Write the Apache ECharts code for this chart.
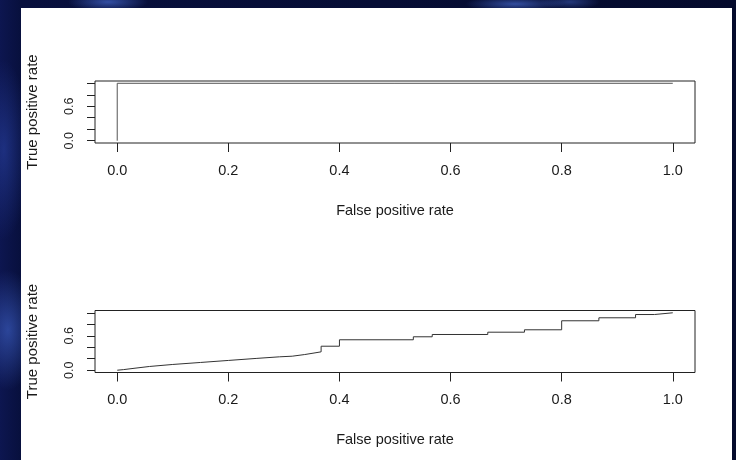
<!DOCTYPE html>
<html>
<head>
<meta charset="utf-8">
<script src="https://cdn.jsdelivr.net/npm/echarts@6/dist/echarts.min.js"></script>
<style>
html,body{margin:0;padding:0;width:736px;height:460px;overflow:hidden;}
body{
  background:
    radial-gradient(ellipse 30px 60px at 8px 330px, rgba(70,110,220,0.55), rgba(70,110,220,0) 100%),
    radial-gradient(ellipse 25px 90px at 4px 150px, rgba(50,80,190,0.45), rgba(50,80,190,0) 100%),
    radial-gradient(ellipse 40px 10px at 108px 2px, rgba(80,120,230,0.6), rgba(80,120,230,0) 100%),
    radial-gradient(ellipse 50px 8px at 515px 4px, rgba(80,120,230,0.6), rgba(80,120,230,0) 100%),
    radial-gradient(ellipse 30px 8px at 570px 2px, rgba(80,120,230,0.4), rgba(80,120,230,0) 100%),
    linear-gradient(90deg, #0d1650 0px, #08103e 20px, #040a2c 100%);
}
#panel{position:absolute;left:21px;top:8px;width:711px;height:452px;background:#fff;}
#chart{position:absolute;left:0;top:0;width:736px;height:460px;}
</style>
</head>
<body>
<div id="panel"></div>
<div id="chart"></div>
<script>
// Tick values and labels
const xTicks = [0, 0.2, 0.4, 0.6, 0.8, 1.0];
const yTicks = [0, 0.2, 0.4, 0.6, 0.8, 1.0];
const yLabels = [0, 0.6];

// ROC curve 1 (perfect classifier)
const fpr1 = [0, 0, 1];
const tpr1 = [0, 1, 1];

// ROC curve 2
const fpr2 = [0, 0.011, 0.011, 0.032, 0.032, 0.058, 0.058, 0.1, 0.15, 0.2, 0.25, 0.292, 0.315, 0.315, 0.3375, 0.3375, 0.356, 0.356, 0.367, 0.367, 0.4, 0.4, 0.533, 0.533, 0.567, 0.567, 0.667, 0.667, 0.733, 0.733, 0.8, 0.8, 0.867, 0.867, 0.933, 0.933, 0.967, 0.967, 1.0];
const tpr2 = [0, 0.01, 0.017, 0.035, 0.042, 0.065, 0.07, 0.1, 0.135, 0.17, 0.205, 0.233, 0.244, 0.256, 0.273, 0.285, 0.302, 0.32, 0.32, 0.418, 0.418, 0.53, 0.53, 0.582, 0.582, 0.622, 0.622, 0.662, 0.662, 0.704, 0.704, 0.861, 0.861, 0.913, 0.913, 0.97, 0.97, 1.0, 1.0];

const FONT = 'Liberation Sans, Arial, sans-serif';
const TXT = '#1a1a1a';

function pairs(xs, ys){ return xs.map((x,i)=>[x, ys[i]]); }

function xAxisDef(gi){
  return {
    gridIndex: gi, type:'value', min:-0.04, max:1.04, position:'bottom',
    axisLine:{show:false, onZero:false},
    splitLine:{show:false},
    axisTick:{show:true, customValues:xTicks, length:9, inside:false, lineStyle:{color:'#222', width:1}},
    axisLabel:{show:true, customValues:xTicks, formatter:v=>v.toFixed(1), margin:20, fontSize:14.5, fontFamily:FONT, color:TXT},
    name:'False positive rate', nameLocation:'middle', nameGap:60,
    nameTextStyle:{fontSize:14.5, fontFamily:FONT, color:TXT}
  };
}
function yAxisDef(gi){
  return {
    gridIndex: gi, type:'value', min:-0.04, max:1.04, position:'left',
    axisLine:{show:false, onZero:false},
    splitLine:{show:false},
    axisTick:{show:true, customValues:yTicks, length:8, inside:false, lineStyle:{color:'#222', width:1}},
    axisLabel:{show:true, customValues:yLabels, formatter:v=>v.toFixed(1), rotate:90, margin:19, fontSize:12.5, fontFamily:FONT, color:TXT},
    name:'True positive rate', nameLocation:'middle', nameGap:55, nameRotate:90,
    nameTextStyle:{fontSize:15, fontFamily:FONT, color:TXT}
  };
}

const chart = echarts.init(document.getElementById('chart'), null, {renderer:'canvas'});
chart.setOption({
  backgroundColor:'transparent',
  animation:false,
  grid:[
    {left:95, top:81, width:600, height:62, show:true, borderColor:'#222', borderWidth:1, backgroundColor:'transparent'},
    {left:95, top:310.5, width:600, height:62, show:true, borderColor:'#222', borderWidth:1, backgroundColor:'transparent'}
  ],
  xAxis:[xAxisDef(0), xAxisDef(1)],
  yAxis:[yAxisDef(0), yAxisDef(1)],
  series:[
    {type:'line', xAxisIndex:0, yAxisIndex:0, data:pairs(fpr1,tpr1), showSymbol:false, symbol:'none', lineStyle:{color:'#555', width:1}},
    {type:'line', xAxisIndex:1, yAxisIndex:1, data:pairs(fpr2,tpr2), showSymbol:false, symbol:'none', lineStyle:{color:'#333', width:1}}
  ]
});
</script>
</body>
</html>
